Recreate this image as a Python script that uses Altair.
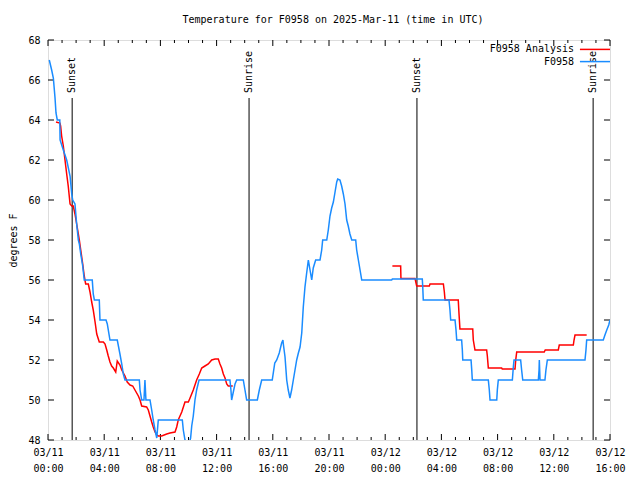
import altair as alt
import pandas as pd

# ---------------- data (hours after 2025-03-11 00:00 UTC, degrees F) ----------------
obs_hours = [
    0.09, 0.26, 0.38, 0.50, 0.57, 0.66, 0.84, 0.86, 1.09, 1.33,
    1.57, 1.69, 1.76, 1.92, 2.04, 2.16, 2.23, 2.33, 2.47, 2.58,
    3.15, 3.22, 3.30, 3.65, 3.70, 4.13, 4.22, 4.41, 4.93, 5.12,
    5.25, 5.36, 5.48, 6.50, 6.55, 6.67, 6.83, 6.90, 6.97, 7.26,
    7.38, 7.49, 7.62, 7.74, 7.85, 9.56, 9.63, 9.75, 9.93, 10.15,
    10.23, 10.34, 10.46, 10.58, 10.75, 12.95, 13.02, 13.07, 13.19, 13.31,
    13.43, 13.90, 14.02, 14.14, 14.90, 15.04, 15.21, 15.96, 16.14, 16.28,
    16.46, 16.63, 16.72, 16.75, 16.87, 16.99, 17.10, 17.22, 17.34, 17.46,
    17.58, 17.70, 17.82, 17.94, 18.06, 18.17, 18.29, 18.41, 18.53, 18.65,
    18.77, 18.88, 19.05, 19.36, 19.48, 19.55, 19.84, 19.95, 20.07, 20.19,
    20.31, 20.43, 20.55, 20.62, 20.78, 20.90, 21.02, 21.14, 21.26, 21.37,
    21.49, 21.62, 21.90, 21.97, 22.09, 22.21, 22.33, 24.46, 24.51, 26.64,
    26.67, 26.71, 28.54, 28.61, 28.66, 28.97, 29.04, 29.09, 29.44, 29.49,
    29.52, 30.11, 30.16, 30.20, 31.34, 31.41, 31.46, 31.94, 31.98, 32.05,
    33.05, 33.12, 33.17, 33.64, 33.71, 33.79, 34.90, 34.95, 34.97, 35.02,
    35.37, 35.44, 35.54, 38.22, 38.29, 38.34, 39.52, 39.64, 39.77, 39.91,
    40.0,
]
obs_temp = [
    67.0, 66.5, 66.1, 65.1, 64.35, 64.0, 64.0, 63.0, 62.5, 62.0,
    61.2, 60.3, 60.0, 59.8, 58.8, 58.0, 57.8, 57.3, 56.7, 56.0,
    56.0, 55.3, 55.0, 55.0, 54.0, 54.0, 53.8, 53.0, 53.0, 52.3,
    51.8, 51.3, 51.0, 51.0, 50.5, 50.0, 50.0, 51.0, 50.0, 50.0,
    49.5, 49.0, 48.5, 48.1, 49.0, 49.0, 48.5, 48.0, 47.5, 48.1,
    48.7, 49.2, 50.0, 50.5, 51.0, 51.0, 50.5, 50.0, 50.4, 50.8,
    51.0, 51.0, 50.5, 50.0, 50.0, 50.5, 51.0, 51.0, 51.85, 52.0,
    52.35, 52.85, 53.0, 52.8, 52.15, 51.0, 50.5, 50.1, 50.5, 51.0,
    51.5, 52.0, 52.35, 52.65, 53.35, 54.65, 55.65, 56.35, 57.0, 56.5,
    56.0, 56.6, 57.0, 57.0, 57.5, 58.0, 58.0, 58.5, 59.2, 59.6,
    59.9, 60.4, 60.9, 61.05, 61.0, 60.7, 60.3, 59.8, 59.0, 58.7,
    58.3, 58.0, 58.0, 57.5, 57.0, 56.5, 56.0, 56.0, 56.05, 56.05,
    55.7, 55.0, 55.0, 54.5, 54.0, 54.0, 53.5, 53.0, 53.0, 52.5,
    52.0, 52.0, 51.5, 51.0, 51.0, 50.5, 50.0, 50.0, 50.5, 51.0,
    51.0, 51.65, 52.0, 52.0, 51.5, 51.0, 51.0, 51.5, 52.0, 51.0,
    51.0, 51.5, 52.0, 52.0, 52.5, 53.0, 53.0, 53.25, 53.5, 53.75,
    54.0,
]

ana1_hours = [
    0.57, 0.85, 0.90, 0.97, 1.09, 1.21, 1.33, 1.44, 1.57, 1.69,
    1.80, 1.92, 2.04, 2.16, 2.23, 2.33, 2.47, 2.58, 2.68, 2.87,
    2.99, 3.11, 3.22, 3.35, 3.47, 3.65, 3.94, 4.06, 4.18, 4.29,
    4.41, 4.53, 4.65, 4.82, 4.93, 5.12, 5.25, 5.48, 5.64, 5.84,
    6.03, 6.19, 6.43, 6.55, 6.67, 7.02, 7.14, 7.26, 7.38, 7.49,
    7.62, 7.74, 7.85, 8.09, 8.45, 8.68, 9.04, 9.16, 9.27, 9.52,
    9.75, 9.99, 10.11, 10.34, 10.58, 10.77, 10.94, 11.17, 11.41, 11.65,
    11.89, 12.12, 12.24, 12.36, 12.48, 12.60, 12.72, 12.83, 13.15,
]
ana1_temp = [
    63.9, 63.85, 63.7, 63.2, 62.7, 62.0, 61.3, 60.7, 59.8, 59.7,
    59.7, 59.3, 58.8, 58.3, 58.0, 57.5, 56.8, 56.2, 55.8, 55.8,
    55.4, 54.9, 54.5, 53.9, 53.3, 52.9, 52.9, 52.8, 52.5, 52.2,
    51.9, 51.7, 51.6, 51.4, 51.95, 51.75, 51.5, 51.2, 50.9, 50.75,
    50.7, 50.5, 50.2, 50.0, 49.7, 49.65, 49.5, 49.2, 48.9, 48.65,
    48.4, 48.25, 48.2, 48.2, 48.3, 48.35, 48.4, 48.65, 49.0, 49.4,
    49.9, 49.9, 50.1, 50.5, 51.0, 51.3, 51.6, 51.7, 51.8, 52.0,
    52.05, 52.05, 51.8, 51.6, 51.3, 51.1, 50.8, 50.7, 50.7,
]
ana2_hours = [
    24.51, 25.10, 25.12, 26.12, 26.24, 27.14, 27.19, 28.14, 28.21, 28.26,
    29.20, 29.25, 29.32, 30.23, 30.27, 30.39, 31.22, 31.27, 31.34, 32.29,
    32.33, 33.24, 33.29, 33.36, 35.32, 35.39, 36.32, 36.39, 37.39, 37.44,
    37.51, 38.34,
]
ana2_temp = [
    56.7, 56.7, 56.08, 56.08, 55.7, 55.7, 55.8, 55.8, 55.4, 55.0,
    55.0, 54.35, 53.55, 53.55, 53.0, 52.5, 52.5, 52.2, 51.6, 51.6,
    51.55, 51.55, 52.0, 52.4, 52.4, 52.5, 52.5, 52.75, 52.75, 53.0,
    53.25, 53.25,
]

event_hours = [1.72, 14.31, 26.26, 38.80]
event_labels = ["Sunset", "Sunrise", "Sunset", "Sunrise"]

series_names = ["F0958 Analysis", "F0958"]
series_colors = ["#ff0000", "#1a8cff"]

y_ticks = [48, 50, 52, 54, 56, 58, 60, 62, 64, 66, 68]
x_tick_hours = list(range(0, 41, 4))

# ---------------- helpers ----------------
BASE = pd.Timestamp("2025-03-11T00:00:00")


def iso(h):
    return (BASE + pd.to_timedelta(h, unit="h")).strftime("%Y-%m-%dT%H:%M:%SZ")


def dt(h):
    ts = BASE + pd.to_timedelta(h, unit="h")
    return alt.DateTime(year=ts.year, month=ts.month, date=ts.day,
                        hours=ts.hour, minutes=ts.minute, utc=True)


FONT = "DejaVu Sans Mono"
YMIN, YMAX = 48, 68
HMIN, HMAX = 0, 40
PX_PER_DEG = 20.0
PX_PER_HOUR = 562 / 40.0

obs_df = pd.DataFrame({"t": [iso(h) for h in obs_hours], "v": obs_temp})
ana_df = pd.DataFrame({
    "t": [iso(h) for h in ana1_hours] + [iso(h) for h in ana2_hours],
    "v": ana1_temp + ana2_temp,
    "seg": [1] * len(ana1_hours) + [2] * len(ana2_hours),
})
ev_df = pd.DataFrame({
    "t": [iso(h) for h in event_hours],
    "label": event_labels,
    "v": [YMIN] * len(event_hours),
    "v2": [65.1] * len(event_hours),
    "vt": [65.35] * len(event_hours),
})

# inward ticks (major every 4 h, minor every hour), mirrored top/bottom and left/right
xt_rows = []
for h in range(HMIN, HMAX + 1):
    ln = (6 if h % 4 == 0 else 3) / PX_PER_DEG
    xt_rows.append({"t": iso(h), "v": YMIN, "v2": YMIN + ln})
    xt_rows.append({"t": iso(h), "v": YMAX, "v2": YMAX - ln})
xt_df = pd.DataFrame(xt_rows)

yt_rows = []
ylen = 6 / PX_PER_HOUR
for y in y_ticks:
    yt_rows.append({"t": iso(HMIN), "t2": iso(HMIN + ylen), "v": y})
    yt_rows.append({"t": iso(HMAX), "t2": iso(HMAX - ylen), "v": y})
yt_df = pd.DataFrame(yt_rows)

# legend (gnuplot style: label then sample line), placed in data units
leg_df = pd.DataFrame({
    "name": series_names,
    "color": series_colors,
    "t_text": [iso(37.44)] * 2,
    "t": [iso(37.86)] * 2,
    "t2": [iso(40.0)] * 2,
    "v": [67.53, 66.92],
})

x_scale = alt.Scale(type="utc", domain=[dt(HMIN), dt(HMAX)])
y_scale = alt.Scale(domain=[YMIN, YMAX], nice=False, zero=False)

x_axis = alt.Axis(
    values=[dt(h) for h in x_tick_hours],
    labelExpr="[utcFormat(datum.value, '%m/%d'), utcFormat(datum.value, '%H:%M')]",
    title=None, ticks=False, domain=False, grid=False, labelAngle=0,
    labelFont=FONT, labelFontSize=10, labelColor="black",
    labelPadding=7, labelLineHeight=16, labelBaseline="top",
    labelOverlap=False, labelFlush=False,
)
y_axis = alt.Axis(
    values=y_ticks, tickCount=11, title="degrees F", ticks=False, domain=False,
    grid=False, format="d",
    labelFont=FONT, labelFontSize=10, labelColor="black", labelPadding=8,
    labelOverlap=False, labelFlush=False,
    titleFont=FONT, titleFontSize=10, titleFontWeight="normal", titleColor="black",
    titlePadding=9,
)


def X(field="t"):
    return alt.X(f"{field}:T", scale=x_scale, axis=x_axis)


def Y(field="v"):
    return alt.Y(f"{field}:Q", scale=y_scale, axis=y_axis)


xticks = alt.Chart(xt_df).mark_rule(color="black", strokeWidth=1).encode(
    x=X(), y=Y(), y2="v2:Q")
yticks = alt.Chart(yt_df).mark_rule(color="black", strokeWidth=1).encode(
    x=X(), x2="t2:T", y=Y())

ev_rules = alt.Chart(ev_df).mark_rule(color="black", strokeWidth=1).encode(
    x=X(), y=Y(), y2="v2:Q")
ev_text = alt.Chart(ev_df).mark_text(
    angle=270, align="left", baseline="middle", font=FONT, fontSize=10,
    color="black").encode(x=X(), y=Y("vt"), text="label:N")

ana_line = alt.Chart(ana_df).mark_line(
    color=series_colors[0], strokeWidth=1.5, clip=True).encode(
    x=X(), y=Y(), detail="seg:N")
obs_line = alt.Chart(obs_df).mark_line(
    color=series_colors[1], strokeWidth=1.5, clip=True).encode(x=X(), y=Y())

leg_text = alt.Chart(leg_df).mark_text(
    align="right", baseline="middle", font=FONT, fontSize=10, color="black").encode(
    x=X("t_text"), y=Y(), text="name:N")
leg_line = alt.Chart(leg_df).mark_rule(strokeWidth=1.5).encode(
    x=X(), x2="t2:T", y=Y(),
    color=alt.Color("color:N", scale=None))

chart = alt.layer(
    xticks, yticks, ev_rules, ev_text, ana_line, obs_line, leg_text, leg_line
).properties(
    width=562, height=400,
    title=alt.Title(
        "Temperature for F0958 on 2025-Mar-11 (time in UTC)",
        font=FONT, fontSize=10, fontWeight="normal", color="black",
        anchor="middle", offset=10, dx=4,
    ),
    autosize=alt.AutoSizeParams(type="none"),
    padding={"left": 40, "top": 32, "right": 22, "bottom": 32},
).configure_view(
    stroke="black", strokeWidth=1
).configure(background="white")

chart.save("out.html", embed_options={"renderer": "svg", "actions": False})
